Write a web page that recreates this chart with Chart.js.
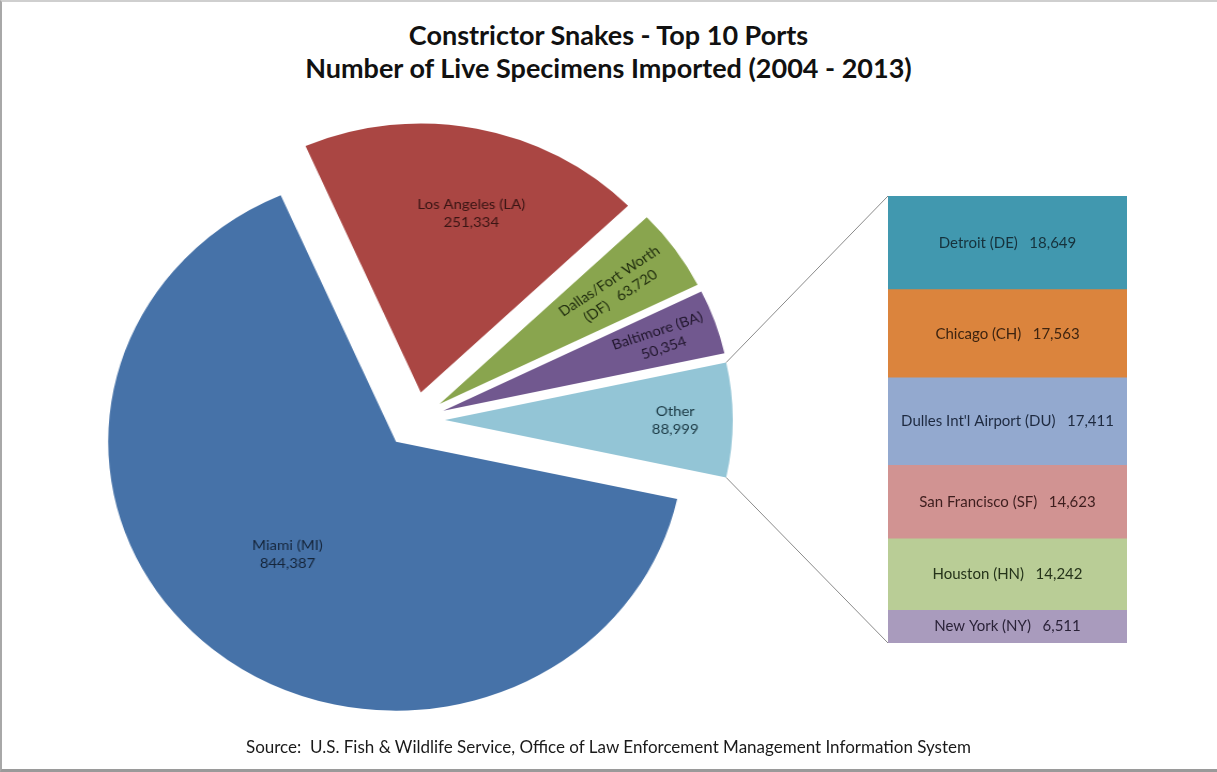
<!DOCTYPE html>
<html>
<head>
<meta charset="utf-8">
<title>Constrictor Snakes - Top 10 Ports</title>
<script src="https://cdn.jsdelivr.net/npm/chart.js@4.4.1/dist/chart.umd.min.js"></script>
<style>
  html, body { margin: 0; padding: 0; background: #fff; }
  #page { position: relative; width: 1217px; height: 772px; overflow: hidden; font-family: Lato, 'Open Sans', sans-serif; }
  #frame { position: absolute; left: 0; top: 0; width: 1217px; height: 772px; box-sizing: border-box;
           border-left: 2px solid #a8a8a8; border-top: 2px solid #cfcfcf; border-bottom: 3px solid #9a9a9a; }
  #title { position: absolute; left: 0; top: 18px; width: 1217px; text-align: center; font-weight: bold;
           font-size: 27px; line-height: 33px; color: #111; }
  #source { position: absolute; left: 0; top: 736px; width: 1217px; text-align: center; font-size: 17px; color: #1a1a1a; }
  /* the picture is a little wider than tall, so the pie is stretched the same way */
  #pieWrap { position: absolute; left: 0; top: 0; width: 830px; height: 772px;
             transform: scaleX(1.07); transform-origin: 415px 420px; }
  #barCanvas { position: absolute; left: 700px; top: 0; }
</style>
</head>
<body>
<div id="page">
  <div id="frame"></div>
  <div id="title">Constrictor Snakes - Top 10 Ports<br>Number of Live Specimens Imported (2004 - 2013)</div>
  <div id="pieWrap"><canvas id="pieCanvas" width="830" height="772"></canvas></div>
  <canvas id="barCanvas" width="517" height="772"></canvas>
  <div id="source">Source:&nbsp; U.S. Fish &amp; Wildlife Service, Office of Law Enforcement Management Information System</div>
</div>
<script>
// pie slices, clockwise starting after the 'Other' wedge
const pieLabels = ['Miami (MI)', 'Los Angeles (LA)', 'Dallas/Fort Worth\n(DF)', 'Baltimore (BA)', 'Other'];
const pieValues = [844387, 251334, 63720, 50354, 88999];
const pieColors = ['#4672A8', '#AA4643', '#89A54E', '#71588F', '#93C5D6'];

// what 'Other' is made of, top to bottom
const barLabels = ['Detroit (DE)', 'Chicago (CH)', "Dulles Int'l Airport (DU)", 'San Francisco (SF)', 'Houston (HN)', 'New York (NY)'];
const barValues = [18649, 17563, 17411, 14623, 14242, 6511];
const barColors = ['#4198AF', '#DB843D', '#93A9CF', '#D19392', '#B9CD96', '#A99BBD'];

// label placement (fraction of radius, small turn in degrees), rotation, colours
const labelDist = [0.565, 0.69, 0.745, 0.80, 0.80];
const labelTurn = [2.5, 3.5, 0, 0, 0];
const labelRotate = [false, false, true, true, false];
const labelInline = [false, false, true, false, false];
const labelColors = ['#15253a', '#3a1514', '#233010', '#22172e', '#1c3a45'];
const barTextColors = ['#16323c', '#3e2410', '#1e2a40', '#3e1e1e', '#25331a', '#2a2238'];

const STRETCH = 1.07;
const PIE_OX = 415;     // transform origin of the pie canvas
const BAR_LEFT = 700;   // where the bar canvas sits on the page
const EXPLODE = 28;
const RADIUS = 269;

Chart.defaults.font.family = 'Lato, "Open Sans", sans-serif';

const fmt = v => v.toLocaleString('en-US');
const pieTotal = pieValues.reduce((a, b) => a + b, 0);
const otherIdx = pieValues.length - 1;

// pull every wedge out from the centre along its middle
const explodePlugin = {
  id: 'explode',
  afterDatasetUpdate(chart) {
    chart.getDatasetMeta(0).data.forEach(arc => {
      const mid = (arc.startAngle + arc.endAngle) / 2;
      arc.x += Math.cos(mid) * EXPLODE;
      arc.y += Math.sin(mid) * EXPLODE;
    });
  }
};

const pieLabelPlugin = {
  id: 'pieLabels',
  afterDatasetsDraw(chart) {
    const ctx = chart.ctx;
    chart.getDatasetMeta(0).data.forEach((arc, i) => {
      const mid = (arc.startAngle + arc.endAngle) / 2;
      const ang = mid + labelTurn[i] * Math.PI / 180;
      const r = arc.outerRadius * labelDist[i];
      const x = arc.x + Math.cos(ang) * r;
      const y = arc.y + Math.sin(ang) * r;
      const parts = pieLabels[i].split('\n');
      let lines;
      if (labelInline[i]) {
        lines = parts.slice();
        lines[lines.length - 1] += '   ' + fmt(pieValues[i]);
      } else {
        lines = parts.concat([fmt(pieValues[i])]);
      }
      ctx.save();
      ctx.translate(x, y);
      if (labelRotate[i]) ctx.rotate(mid);
      ctx.font = '14px Lato, "Open Sans", sans-serif';
      ctx.fillStyle = labelColors[i];
      ctx.textAlign = 'center';
      ctx.textBaseline = 'middle';
      const lh = 18;
      lines.forEach((t, k) => {
        ctx.fillText(t, 0, (k - (lines.length - 1) / 2) * lh);
      });
      ctx.restore();
    });
  }
};

const pieChart = new Chart(document.getElementById('pieCanvas'), {
  type: 'pie',
  data: {
    labels: pieLabels,
    datasets: [{
      data: pieValues,
      backgroundColor: pieColors,
      borderWidth: 0,
      radius: RADIUS,
      clip: false
    }]
  },
  options: {
    responsive: false,
    animation: false,
    rotation: 90 + (pieValues[otherIdx] / pieTotal) * 180,
    layout: { padding: { left: 0, right: 0, top: 100, bottom: 32 } },
    plugins: { legend: { display: false }, tooltip: { enabled: false } },
    events: []
  },
  plugins: [explodePlugin, pieLabelPlugin]
});

// page position of a point on the (stretched) pie canvas, in bar canvas coords
function pieToBar(px, py) {
  return { x: PIE_OX + (px - PIE_OX) * STRETCH - BAR_LEFT, y: py };
}

const connectorPlugin = {
  id: 'connector',
  beforeDatasetsDraw(chart) {
    const arc = pieChart.getDatasetMeta(0).data[otherIdx];
    const R = arc.outerRadius;
    const a = pieToBar(arc.x + Math.cos(arc.startAngle) * R, arc.y + Math.sin(arc.startAngle) * R);
    const b = pieToBar(arc.x + Math.cos(arc.endAngle) * R, arc.y + Math.sin(arc.endAngle) * R);
    const yScale = chart.scales.y;
    const left = chart.chartArea.left;
    const ctx = chart.ctx;
    ctx.save();
    ctx.strokeStyle = '#8a8a8a';
    ctx.lineWidth = 1;
    ctx.beginPath();
    ctx.moveTo(a.x, a.y);
    ctx.lineTo(left, yScale.getPixelForValue(yScale.max));
    ctx.moveTo(b.x, b.y);
    ctx.lineTo(left, yScale.getPixelForValue(0));
    ctx.stroke();
    ctx.restore();
  }
};

const barLabelPlugin = {
  id: 'barLabels',
  afterDatasetsDraw(chart) {
    const ctx = chart.ctx;
    ctx.save();
    ctx.font = '15px Lato, "Open Sans", sans-serif';
    ctx.textAlign = 'center';
    ctx.textBaseline = 'middle';
    chart.data.datasets.forEach((ds, di) => {
      const bar = chart.getDatasetMeta(di).data[0];
      const i = barLabels.indexOf(ds.label);
      ctx.fillStyle = barTextColors[i];
      ctx.fillText(ds.label + '   ' + fmt(ds.data[0]), bar.x, (bar.y + bar.base) / 2);
    });
    ctx.restore();
  }
};

// stack from the bottom up, so reverse the top-to-bottom lists
const barDatasets = barLabels.map((name, i) => ({
  label: name,
  data: [barValues[i]],
  backgroundColor: barColors[i],
  borderWidth: 0,
  barPercentage: 1,
  categoryPercentage: 1
})).reverse();

const otherTotal = barValues.reduce((a, b) => a + b, 0);

new Chart(document.getElementById('barCanvas'), {
  type: 'bar',
  data: { labels: ['Other'], datasets: barDatasets },
  options: {
    responsive: false,
    animation: false,
    layout: { padding: { left: 188, right: 90, top: 196, bottom: 129 } },
    scales: {
      x: { display: false, stacked: true },
      y: { display: false, stacked: true, min: 0, max: otherTotal }
    },
    plugins: { legend: { display: false }, tooltip: { enabled: false } },
    events: []
  },
  plugins: [connectorPlugin, barLabelPlugin]
});
</script>
</body>
</html>
